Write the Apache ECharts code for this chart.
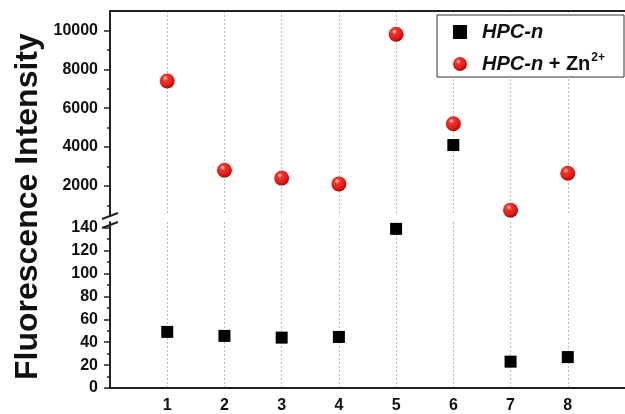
<!DOCTYPE html>
<html>
<head>
<meta charset="utf-8">
<script src="https://cdn.jsdelivr.net/npm/echarts@6/dist/echarts.min.js"></script>
<style>html,body{margin:0;padding:0;background:#fff}#c{width:625px;height:414px}</style>
</head>
<body>
<div id="c"></div>
<script>
const categories = [1, 2, 3, 4, 5, 6, 7, 8];
const hpcLow = [49, 45.5, 44, 44.6, 139, null, 23, 27];
const hpcHigh = [null, null, null, null, null, 4100, null, null];
const hpcZn = [7400, 2800, 2400, 2100, 9800, 5200, 750, 2650];
const lowTicks = [0, 20, 40, 60, 80, 100, 120, 140];
const lowMinor = [10, 30, 50, 70, 90, 110, 130];
const highTicks = [2000, 4000, 6000, 8000, 10000];
const highMinor = [1000, 3000, 5000, 7000, 9000];
const xTicks = [1, 2, 3, 4, 5, 6, 7, 8];

const pts = arr => categories.map((c, i) => [c, arr[i]]).filter(p => p[1] != null);
const FONT = '"Liberation Sans", Arial, sans-serif';
const AX = '#222';
const plain = v => String(v);

const sphere = {
  type: 'radial', x: 0.38, y: 0.32, r: 0.7,
  colorStops: [
    {offset: 0, color: '#ffd0cc'},
    {offset: 0.25, color: '#f2362c'},
    {offset: 0.7, color: '#e01a14'},
    {offset: 1, color: '#a00c0a'}
  ]
};

const chart = echarts.init(document.getElementById('c'));
const xBase = {
  type: 'value', min: 0, max: 9, interval: 1,
  axisTick: {show: false},
  splitLine: {show: true, lineStyle: {color: '#bbbbbb', type: [2, 2], width: 1}}
};
const lbl = {color: '#111', fontSize: 16, fontWeight: 'bold', fontFamily: FONT, formatter: plain};
chart.setOption({
  animation: false,
  textStyle: {fontFamily: FONT},
  grid: [
    {left: 110, right: -3, top: 11, bottom: 199},
    {left: 110, right: -3, top: 222, bottom: 22}
  ],
  xAxis: [
    Object.assign({}, xBase, {gridIndex: 0, position: 'top',
      axisLine: {show: true, lineStyle: {color: AX, width: 2}},
      axisLabel: {show: false}}),
    Object.assign({}, xBase, {gridIndex: 1, position: 'bottom',
      axisLine: {show: true, lineStyle: {color: AX, width: 2}},
      axisLabel: Object.assign({show: true, customValues: xTicks, margin: 10}, lbl)})
  ],
  yAxis: [
    {type: 'value', gridIndex: 0, min: 500, max: 11000,
      axisLine: {show: true, onZero: false, lineStyle: {color: AX, width: 2}},
      axisTick: {show: true, customValues: highTicks, length: 6, lineStyle: {color: AX, width: 1.5}},
      axisLabel: Object.assign({customValues: highTicks, margin: 12}, lbl),
      splitLine: {show: false}},
    {type: 'value', gridIndex: 0, min: 500, max: 11000, position: 'left',
      axisLine: {show: false},
      axisTick: {show: true, customValues: highMinor, length: 3, lineStyle: {color: AX, width: 1.5}},
      axisLabel: {show: false}, splitLine: {show: false}},
    {type: 'value', gridIndex: 1, min: 0, max: 145,
      axisLine: {show: true, onZero: false, lineStyle: {color: AX, width: 2}},
      axisTick: {show: true, customValues: lowTicks, length: 6, lineStyle: {color: AX, width: 1.5}},
      axisLabel: Object.assign({customValues: lowTicks, margin: 12}, lbl),
      splitLine: {show: false}},
    {type: 'value', gridIndex: 1, min: 0, max: 145, position: 'left',
      axisLine: {show: false},
      axisTick: {show: true, customValues: lowMinor, length: 3, lineStyle: {color: AX, width: 1.5}},
      axisLabel: {show: false}, splitLine: {show: false}}
  ],
  legend: {
    orient: 'vertical', left: 437, top: 15,
    padding: [7, 19, 3, 16], itemGap: 10,
    itemWidth: 14, itemHeight: 14,
    borderColor: '#333', borderWidth: 1, backgroundColor: '#fff',
    data: [{name: 'HPC-n', icon: 'rect', itemStyle: {color: '#000', opacity: 1}}, {name: 'HPC-n + Zn2+', icon: 'circle', itemStyle: {opacity: 1}}],
    formatter: name => name === 'HPC-n' ? '{i|HPC-n}' : '{i|HPC-n} {b|+ Zn}{s|2+}',
    textStyle: {
      color: '#111', fontSize: 20, fontWeight: 'bold', fontFamily: FONT, padding: [0, 0, 0, 10],
      rich: {
        i: {fontStyle: 'italic', fontWeight: 'bold', fontSize: 20, fontFamily: FONT, color: '#111'},
        b: {fontWeight: 'bold', fontSize: 20, fontFamily: FONT, color: '#111'},
        s: {fontSize: 12, fontWeight: 'bold', fontFamily: FONT, verticalAlign: 'top', lineHeight: 24, padding: [0, 0, 10, 1], color: '#111'}
      }
    }
  },
  graphic: [
    {type: 'text', rotation: Math.PI / 2, x: 12, y: 380,
      style: {text: 'Fluorescence Intensity', fontSize: 32, fontWeight: 'bold', fontFamily: FONT, fill: '#111', textAlign: 'left', textVerticalAlign: 'top'}},
    {type: 'line', shape: {x1: 102, y1: 219, x2: 118, y2: 213}, style: {stroke: AX, lineWidth: 2}},
    {type: 'line', shape: {x1: 102, y1: 228, x2: 118, y2: 222}, style: {stroke: AX, lineWidth: 2}}
  ],
  series: [
    {name: 'HPC-n', type: 'scatter', xAxisIndex: 1, yAxisIndex: 2, symbol: 'rect', symbolSize: 12,
      itemStyle: {color: '#000', opacity: 1}, data: pts(hpcLow), z: 5},
    {name: 'HPC-n', type: 'scatter', xAxisIndex: 0, yAxisIndex: 0, symbol: 'rect', symbolSize: 12,
      itemStyle: {color: '#000', opacity: 1}, data: pts(hpcHigh), z: 5},
    {name: 'HPC-n + Zn2+', type: 'scatter', xAxisIndex: 0, yAxisIndex: 0, symbol: 'circle', symbolSize: 15,
      itemStyle: {color: sphere, opacity: 1}, data: pts(hpcZn), z: 6}
  ]
});
</script>
</body>
</html>
